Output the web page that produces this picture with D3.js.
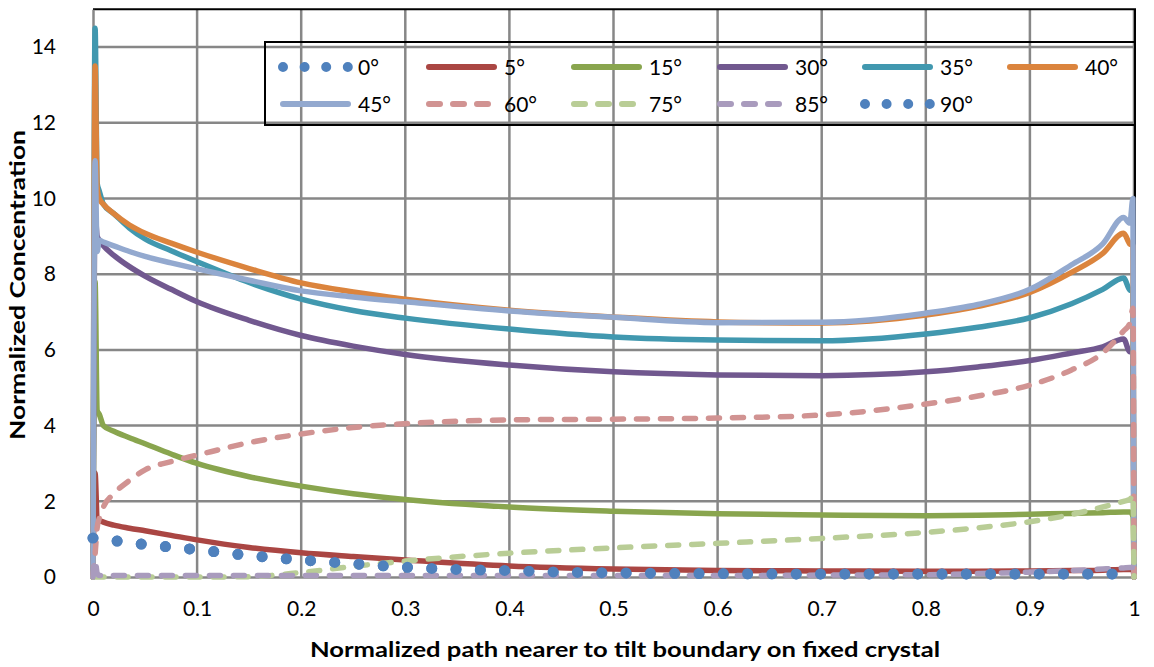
<!DOCTYPE html>
<html><head><meta charset="utf-8">
<script src="https://cdn.jsdelivr.net/npm/d3@7"></script>
<style>body{margin:0;background:#fff}svg{display:block}text{font-family:Lato,"Liberation Sans",Arial,sans-serif}</style>
</head><body>
<svg id="c" width="1154" height="667"></svg>
<script>
// ---------- data ----------
const xPath = [0, 0.002, 0.004, 0.006, 0.01, 0.02, 0.035, 0.05, 0.075, 0.1, 0.15, 0.2, 0.25, 0.3, 0.4, 0.5, 0.6, 0.7, 0.8, 0.85, 0.9, 0.94, 0.97, 0.99, 0.996, 0.999, 1];
const s5  = [0, 2.75, 1.55, 1.5, 1.45, 1.37, 1.29, 1.22, 1.1, 0.98, 0.78, 0.64, 0.54, 0.45, 0.29, 0.21, 0.17, 0.16, 0.15, 0.15, 0.16, 0.17, 0.18, 0.2, 0.2, 0.2, 0];
const s15 = [0, 7.8, 4.4, 4.3, 4.0, 3.85, 3.68, 3.52, 3.25, 3.0, 2.65, 2.4, 2.2, 2.05, 1.85, 1.74, 1.67, 1.64, 1.62, 1.63, 1.66, 1.68, 1.7, 1.72, 1.72, 1.6, 0];
const s30 = [0, 9.6, 9.0, 8.9, 8.75, 8.5, 8.2, 7.95, 7.6, 7.27, 6.78, 6.38, 6.1, 5.88, 5.6, 5.42, 5.34, 5.32, 5.42, 5.55, 5.72, 5.92, 6.08, 6.29, 5.95, 5.95, 0];
const s35 = [0, 14.5, 10.4, 10.2, 9.85, 9.6, 9.22, 8.93, 8.62, 8.33, 7.78, 7.34, 7.04, 6.84, 6.55, 6.34, 6.26, 6.24, 6.42, 6.6, 6.85, 7.22, 7.6, 7.9, 7.58, 7.55, 0];
const s40 = [0, 13.5, 10.3, 10.0, 9.85, 9.6, 9.3, 9.08, 8.82, 8.58, 8.15, 7.77, 7.53, 7.34, 7.05, 6.87, 6.74, 6.71, 6.92, 7.15, 7.52, 8.05, 8.55, 9.08, 8.8, 8.75, 0];
const s45 = [0, 11.0, 8.6, 8.9, 8.85, 8.75, 8.6, 8.47, 8.3, 8.14, 7.84, 7.56, 7.4, 7.27, 7.03, 6.86, 6.72, 6.73, 6.97, 7.2, 7.6, 8.25, 8.8, 9.5, 9.35, 10.0, 0];
const s60 = [0, 0.6, 1.3, 1.55, 1.85, 2.2, 2.55, 2.83, 3.05, 3.22, 3.55, 3.78, 3.95, 4.05, 4.15, 4.17, 4.2, 4.28, 4.57, 4.78, 5.07, 5.47, 5.92, 6.5, 6.7, 7.1, 0];
const s75 = [0, 0, 0, 0, 0, 0, 0, 0, 0, 0, 0.01, 0.12, 0.28, 0.42, 0.63, 0.77, 0.89, 1.02, 1.18, 1.3, 1.46, 1.65, 1.85, 2.0, 2.05, 2.17, 0];
const s85 = [0, 0.45, 0.1, 0.04, 0.04, 0.04, 0.04, 0.04, 0.04, 0.04, 0.04, 0.04, 0.04, 0.04, 0.04, 0.04, 0.04, 0.05, 0.06, 0.09, 0.13, 0.17, 0.21, 0.24, 0.25, 0.25, 0];
const xDot = [0, 0.05, 0.1, 0.15, 0.2, 0.25, 0.3, 0.35, 0.4, 0.45, 0.5, 0.6, 0.7, 0.8, 0.9, 1];
const s0  = [1.03, 0.86, 0.72, 0.57, 0.45, 0.35, 0.26, 0.2, 0.17, 0.13, 0.11, 0.09, 0.08, 0.08, 0.08, 0.08];
const s90 = [1.03, 0.86, 0.72, 0.57, 0.45, 0.35, 0.26, 0.2, 0.17, 0.13, 0.11, 0.09, 0.08, 0.08, 0.08, 0.08];
const seriesNames = ["0°", "5°", "15°", "30°", "35°", "40°", "45°", "60°", "75°", "85°", "90°"];
const xTicks = [0, 0.1, 0.2, 0.3, 0.4, 0.5, 0.6, 0.7, 0.8, 0.9, 1];
const yTicks = [0, 2, 4, 6, 8, 10, 12, 14];
const xTitle = "Normalized path nearer to tilt boundary on fixed crystal";
const yTitle = "Normalized Concentration";

// ---------- series table ----------
const colors = ["#4F81BD","#AA4643","#89A54E","#71588F","#4198AF","#DB843D","#93A9CF","#D19392","#B9CD96","#A99BBD","#4F81BD"];
const styles = ["dot","solid","solid","solid","solid","solid","solid","dash","dash","dash","dot"];
const valueSets = [s0, s5, s15, s30, s35, s40, s45, s60, s75, s85, s90];
const xSets = [xDot, xPath, xPath, xPath, xPath, xPath, xPath, xPath, xPath, xPath, xDot];
const series = seriesNames.map((n, i) => ({
  name: n, color: colors[i], style: styles[i],
  pts: valueSets[i].map((v, j) => [xSets[i][j], v])
}));

// ---------- layout ----------
const svg = d3.select("#c");
const L = 93, R = 1134, T = 9.25, B = 577;
const x = d3.scaleLinear().domain([0, 1]).range([L, R]);
const y = d3.scaleLinear().domain([0, 15]).range([B, T]);

// gridlines
svg.append("g").selectAll("line").data(yTicks.slice(1)).join("line")
  .attr("x1", L).attr("x2", R).attr("y1", d => y(d)).attr("y2", d => y(d))
  .attr("stroke", "#878787").attr("stroke-width", 2.5);
svg.append("g").selectAll("line").data(xTicks.slice(1)).join("line")
  .attr("x1", d => x(d)).attr("x2", d => x(d)).attr("y1", T).attr("y2", B)
  .attr("stroke", "#878787").attr("stroke-width", 2.5);

// plot border (top/right black)
svg.append("path").attr("d", `M${L},${T}H${R+1}V${B}`).attr("fill", "none")
  .attr("stroke", "#000").attr("stroke-width", 2);

// axes
const xAxis = d3.axisBottom(x).tickValues(xTicks).tickFormat(d3.format("")).tickSize(0).tickPadding(24);
const gx = svg.append("g").attr("transform", `translate(0,${B})`).call(xAxis);
const yAxis = d3.axisLeft(y).tickValues(yTicks).tickFormat(d3.format("")).tickSize(0).tickPadding(38);
const gy = svg.append("g").attr("transform", `translate(${L},0)`).call(yAxis);
[gx, gy].forEach(g => {
  g.select(".domain").attr("stroke", "#878787").attr("stroke-width", 2.5);
  g.selectAll("text").attr("font-size", 21).attr("fill", "#000")
    .attr("font-family", "Lato, 'Liberation Sans', Arial, sans-serif");
});
gy.selectAll("text").attr("dx", 0).attr("x", -L + 56).attr("text-anchor", "end");

// lines
const line = d3.line().x(d => x(d[0])).y(d => y(d[1])).curve(d3.curveMonotoneX);
const gl = svg.append("g");
series.forEach(s => {
  const p = gl.append("path").attr("d", line(s.pts)).attr("fill", "none")
    .attr("stroke", s.color).attr("stroke-linecap", "round").attr("stroke-linejoin", "round");
  if (s.style === "dot") p.attr("stroke-width", 11).attr("stroke-dasharray", "0 24.3");
  else if (s.style === "dash") p.attr("stroke-width", 5.5).attr("stroke-dasharray", "11 13");
  else p.attr("stroke-width", 5.5);
});

// legend
const lg = svg.append("g");
lg.append("rect").attr("x", 265).attr("y", 42).attr("width", 870).attr("height", 83)
  .attr("fill", "none").attr("stroke", "#000").attr("stroke-width", 2);
const labelX = [358, 504, 649, 795, 940, 1085];
const rowY = [67, 104];
series.forEach((s, i) => {
  const col = i % 6, row = Math.floor(i / 6);
  const lx = labelX[col], cy = rowY[row];
  const sy = lg.append("line").attr("x1", lx - 75).attr("x2", lx - 10).attr("y1", cy).attr("y2", cy)
    .attr("stroke", s.color).attr("stroke-linecap", "round");
  if (s.style === "dot") sy.attr("stroke-width", 10).attr("stroke-dasharray", "0 21.6");
  else if (s.style === "dash") sy.attr("stroke-width", 6).attr("stroke-dasharray", "11 13");
  else sy.attr("stroke-width", 6);
  lg.append("text").attr("x", lx).attr("y", cy).attr("dy", "0.36em")
    .attr("font-size", 21).attr("fill", "#000").text(s.name);
});

// titles
svg.append("text").attr("x", 625).attr("y", 657).attr("text-anchor", "middle")
  .attr("font-size", 21).attr("font-weight", "bold").attr("fill", "#000")
  .attr("textLength", 630).attr("lengthAdjust", "spacingAndGlyphs").text(xTitle);
svg.append("text").attr("transform", "translate(25,285) rotate(-90)").attr("text-anchor", "middle")
  .attr("font-size", 21).attr("font-weight", "bold").attr("fill", "#000")
  .attr("textLength", 310).attr("lengthAdjust", "spacingAndGlyphs").text(yTitle);
</script>
</body></html>
